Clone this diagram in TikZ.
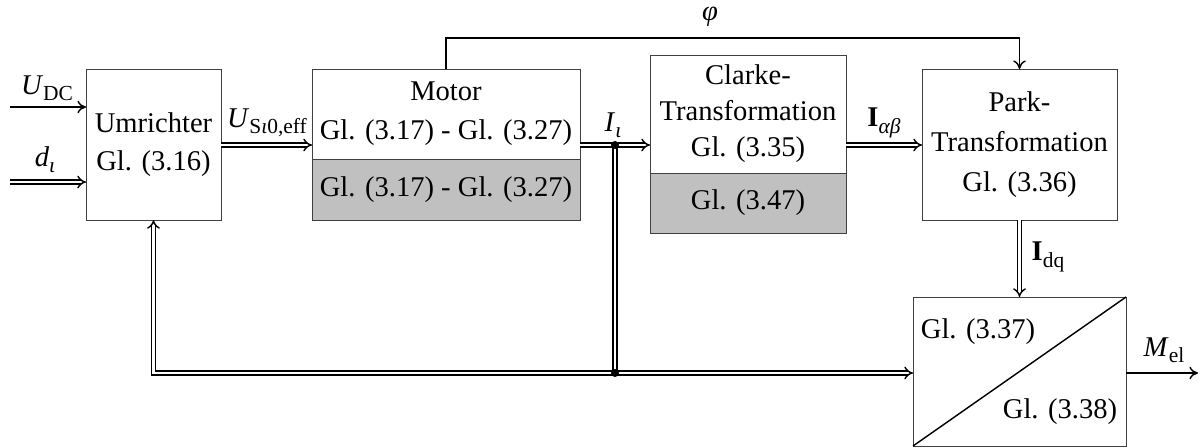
\documentclass[tikz,border=0pt]{standalone}
\usepackage{fontspec}
\setmainfont{Liberation Serif}
\usetikzlibrary{arrows.meta}
\definecolor{shade}{RGB}{192,192,192}
\newcommand{\sbs}[1]{\raisebox{-2.2pt}{\fontsize{7.5}{8}\selectfont #1}}
\begin{document}
\begin{tikzpicture}[x=0.35pt,y=-0.35pt,
  box/.style={draw=black!75, line width=0.35pt, inner sep=0pt, outer sep=0pt, align=center},
  graybox/.style={box, fill=shade},
  sig/.style={line width=0.5pt, -{To[length=3pt,width=4.4pt]}},
  dline/.style={double, double distance=1pt, line width=0.5pt},
  dsig/.style={dline, -{Implies}},
  lbl/.style={inner sep=0pt, font=\fontsize{10}{12}\selectfont},
  jdot/.style={circle, fill=black, inner sep=0pt, minimum size=2.8pt}]
\useasboundingbox (0,0) rectangle (1200,447);

% blocks
\node[box, minimum width=47.25pt, minimum height=52.85pt, font=\fontsize{10}{13.3}\selectfont] (umr) at (153.5,144.5) {Umrichter\\Gl. (3.16)};
\node[box, minimum width=93.8pt, minimum height=31.5pt, font=\fontsize{10}{13.6}\selectfont] (motT) at (446,114) {Motor\\Gl. (3.17) - Gl. (3.27)};
\node[graybox, minimum width=93.8pt, minimum height=21.35pt, font=\fontsize{10}{12}\selectfont] (motB) at (446,189.5) {Gl. (3.17) - Gl. (3.27)};
\node[box, minimum width=68.6pt, minimum height=41.3pt, font=\fontsize{10}{12.6}\selectfont] (clkT) at (748,114) {Clarke-\\Transformation\\Gl. (3.35)};
\node[graybox, minimum width=68.6pt, minimum height=21pt, font=\fontsize{10}{12}\selectfont] (clkB) at (748,203) {\raisebox{-2pt}{Gl. (3.47)}};
\node[box, minimum width=68.25pt, minimum height=52.85pt, font=\fontsize{10}{14}\selectfont] (park) at (1019.5,144.5) {Park-\\Transformation\\Gl. (3.36)};
\node[box, minimum width=74.55pt, minimum height=52.15pt] (bot) at (1019.5,371.5) {};
\draw[line width=0.5pt] (bot.south west) -- (bot.north east);
\node[lbl] (g37) at (978,332) {Gl. (3.37)};
\node[lbl] (g38) at (1060,412) {Gl. (3.38)};

% helper coordinates
\coordinate (udc) at (10,107);
\coordinate (din) at (10,182);
\coordinate (ysig) at (0,145);
\coordinate (ytop) at (0,38);
\coordinate (mel) at (1198,373);
\coordinate (j1) at (615,145);
\coordinate (j2) at (615,373);

% connectors
\draw[sig] (udc) -- (udc -| umr.west);
\draw[dsig] (din) -- (din -| umr.west);
\draw[dsig] (umr.east |- ysig) -- (motT.west |- ysig);
\draw[dsig] (motT.east |- ysig) -- (clkT.west |- ysig);
\draw[dline] (j1) -- (j2);
\draw[dsig] (j2) -- (bot.west |- j2);
\draw[dsig] (j2) -- (umr.south |- j2) -- (umr.south);
\draw[dsig] (clkT.east |- ysig) -- (park.west |- ysig);
\draw[sig] (motT.north) -- (motT.north |- ytop) -| (park.north);
\draw[dsig] (park.south) -- (bot.north);
\draw[sig] (bot.east |- mel) -- (mel);
\node[jdot] (d1) at (j1) {};
\node[jdot] (d2) at (j2) {};

% labels
\node[lbl] (l1) at (47,88) {\textit{U}\sbs{DC}};
\node[lbl] (l2) at (45,160) {\textit{d}\sbs{\textit{ι}}};
\node[lbl] (l3) at (267,123) {\textit{U}\sbs{S\textit{ι}0,eff}};
\node[lbl] (l4) at (613,125) {\textit{I}\sbs{\textit{ι}}};
\node[lbl] (l5) at (710,17) {\textit{φ}};
\node[lbl] (l6) at (884,123) {\textbf{I}\sbs{\textit{αβ}}};
\node[lbl] (l7) at (1048,257) {\textbf{I}\sbs{dq}};
\node[lbl] (l8) at (1164,350) {\textit{M}\sbs{el}};
\end{tikzpicture}
\end{document}
